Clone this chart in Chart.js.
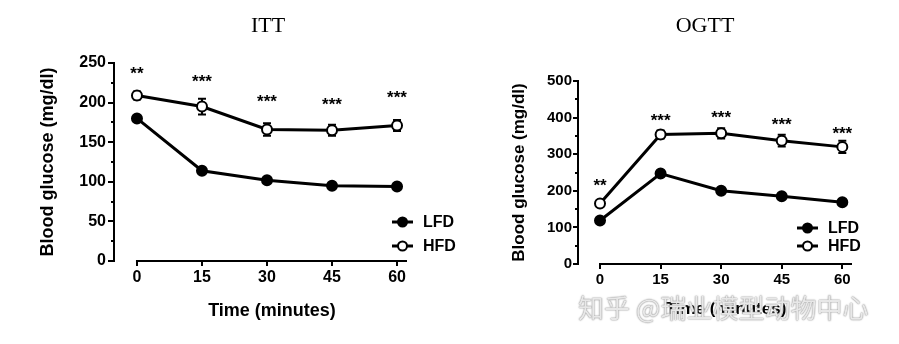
<!DOCTYPE html>
<html>
<head>
<meta charset="utf-8">
<script src="https://cdn.jsdelivr.net/npm/chart.js@4.4.0/dist/chart.umd.min.js"></script>
<style>
  html, body { margin: 0; padding: 0; background: #fff; }
  #wrap { position: relative; width: 899px; height: 344px; overflow: hidden; }
  canvas { position: absolute; top: 0; }
  #itt-canvas { left: 0; }
  #ogtt-canvas { left: 450px; }
  .panel-title {
    position: absolute; top: 14px; line-height: 22px;
    font-family: "Liberation Serif", "Times New Roman", serif; font-size: 22px;
    color: #000; transform: translateX(-50%); white-space: nowrap;
  }
  #watermark {
    position: absolute; left: 578px; top: 293px; line-height: 28px;
    font-family: "Noto Sans CJK SC", sans-serif; font-size: 26px; white-space: nowrap;
    color: rgba(255, 255, 255, 0.82);
    text-shadow: 0 0 1px #7a7a7a, 0 0 2px #a0a0a0;
  }
</style>
</head>
<body>
<div id="wrap">
  <canvas id="ogtt-canvas" width="449" height="344"></canvas>
  <canvas id="itt-canvas" width="480" height="344"></canvas>
  <div class="panel-title" style="left:268px">ITT</div>
  <div class="panel-title" style="left:705px">OGTT</div>
  <div id="watermark">知乎 @瑞业模型动物中心</div>
</div>
<script>
// time points (minutes)
const times = [0, 15, 30, 45, 60];
const seriesNames = ["LFD", "HFD"];

// ITT
const ittLfd = [180, 114, 102, 95, 94];
const ittHfd = [209, 195, 166, 165, 171];
const ittHfdErr = [5, 10, 8, 7, 7];
const ittStars = ["**", "***", "***", "***", "***"];
const ittStarY = [241, 231, 205, 202, 210];
const ittYTicks = [0, 50, 100, 150, 200, 250];
const ittYMinor = [25, 75, 125, 175, 225];

// OGTT
const ogttLfd = [119, 247, 200, 185, 169];
const ogttHfd = [165, 354, 357, 337, 320];
const ogttHfdErr = [5, 11, 14, 16, 17];
const ogttStars = ["**", "***", "***", "***", "***"];
const ogttStarY = [222, 400, 408, 389, 364];
const ogttYTicks = [0, 100, 200, 300, 400, 500];
const ogttYMinor = [50, 150, 250, 350, 450];

const xTitle = "Time (minutes)";
const yTitle = "Blood glucose (mg/dl)";

Chart.defaults.font.family = "'Liberation Sans', Arial, sans-serif";
Chart.defaults.color = "#000";

const decorPlugin = {
  id: "decor",
  beforeDatasetsDraw(chart, args, opts) {
    const { ctx, chartArea } = chart;
    const x = chart.scales.x;
    const y = chart.scales.y;
    ctx.save();
    ctx.strokeStyle = "#000";
    ctx.lineWidth = 2;

    // x axis line starts at the first time point
    ctx.beginPath();
    ctx.moveTo(x.getPixelForValue(times[0]) - 1, chartArea.bottom);
    ctx.lineTo(chartArea.right, chartArea.bottom);
    ctx.stroke();

    // minor y ticks
    ctx.beginPath();
    opts.minor.forEach((v) => {
      const py = Math.round(y.getPixelForValue(v));
      ctx.moveTo(chartArea.left, py);
      ctx.lineTo(chartArea.left - 3, py);
    });
    ctx.stroke();

    // HFD error bars
    ctx.beginPath();
    opts.errValues.forEach((v, i) => {
      const px = x.getPixelForValue(times[i]);
      const top = y.getPixelForValue(v + opts.err[i]);
      const bot = y.getPixelForValue(v - opts.err[i]);
      ctx.moveTo(px, top);
      ctx.lineTo(px, bot);
      ctx.moveTo(px - 4, top);
      ctx.lineTo(px + 4, top);
      ctx.moveTo(px - 4, bot);
      ctx.lineTo(px + 4, bot);
    });
    ctx.stroke();
    ctx.restore();
  },
  afterDatasetsDraw(chart, args, opts) {
    const { ctx, chartArea } = chart;
    const x = chart.scales.x;
    const y = chart.scales.y;
    ctx.save();
    ctx.fillStyle = "#000";

    // significance stars
    ctx.font = "bold 17px 'Liberation Sans', Arial, sans-serif";
    ctx.textAlign = "center";
    ctx.textBaseline = "middle";
    opts.stars.forEach((s, i) => {
      ctx.fillText(s, x.getPixelForValue(times[i]), y.getPixelForValue(opts.starY[i]) + 4);
    });

    // legend
    const lg = opts.legend;
    chart.data.datasets.forEach((ds, i) => {
      const ly = lg.y[i];
      ctx.strokeStyle = "#000";
      ctx.lineWidth = 3;
      ctx.beginPath();
      ctx.moveTo(lg.x1, ly);
      ctx.lineTo(lg.x2, ly);
      ctx.stroke();
      ctx.beginPath();
      ctx.arc((lg.x1 + lg.x2) / 2, ly, ds.pointRadius - 0.5, 0, Math.PI * 2);
      ctx.fillStyle = ds.pointBackgroundColor;
      ctx.fill();
      ctx.lineWidth = ds.pointBorderWidth;
      ctx.stroke();
      ctx.fillStyle = "#000";
      ctx.font = "bold 16px 'Liberation Sans', Arial, sans-serif";
      ctx.textAlign = "left";
      ctx.fillText(ds.label, lg.textX, ly + 1);
    });

    // axis titles
    ctx.textAlign = "center";
    ctx.textBaseline = "middle";
    ctx.font = `bold ${opts.titleSize}px 'Liberation Sans', Arial, sans-serif`;
    const xMid = (x.getPixelForValue(times[0]) + chartArea.right) / 2;
    ctx.fillText(xTitle, xMid, opts.xTitleY);
    ctx.translate(opts.yTitleX, (chartArea.top + chartArea.bottom) / 2);
    ctx.rotate(-Math.PI / 2);
    ctx.fillText(yTitle, 0, 0);
    ctx.restore();
  },
};

function makeChart(canvasId, cfg) {
  const line = (label, data, fill) => ({
    label,
    data,
    borderColor: "#000",
    borderWidth: 3,
    pointRadius: 5,
    pointHoverRadius: 5,
    pointBackgroundColor: fill,
    pointBorderColor: "#000",
    pointBorderWidth: 2,
    tension: 0,
    clip: false,
  });

  return new Chart(document.getElementById(canvasId), {
    type: "line",
    data: {
      labels: times,
      datasets: [
        line(seriesNames[0], cfg.lfd, "#000"),
        line(seriesNames[1], cfg.hfd, "#fff"),
      ],
    },
    options: {
      responsive: false,
      animation: false,
      events: [],
      layout: { padding: cfg.padding },
      plugins: {
        legend: { display: false },
        tooltip: { enabled: false },
        decor: cfg.decor,
      },
      scales: {
        x: {
          type: "linear",
          min: cfg.xMin,
          max: cfg.xMax,
          afterBuildTicks: (scale) => {
            scale.ticks = times.map((v) => ({ value: v }));
          },
          afterFit: (scale) => {
            scale.height = cfg.xHeight;
          },
          grid: { drawOnChartArea: false, tickLength: 5, color: "#000", lineWidth: 2 },
          border: { display: false },
          ticks: {
            autoSkip: false,
            maxRotation: 0,
            padding: 2,
            font: { size: cfg.tickSize, weight: "bold" },
            callback: (v) => String(v),
          },
        },
        y: {
          min: cfg.yTicks[0],
          max: cfg.yTicks[cfg.yTicks.length - 1],
          afterBuildTicks: (scale) => {
            scale.ticks = cfg.yTicks.map((v) => ({ value: v }));
          },
          afterFit: (scale) => {
            scale.width = cfg.yWidth;
          },
          grid: { drawOnChartArea: false, tickLength: cfg.yTickLen, color: "#000", lineWidth: 2 },
          border: { display: true, color: "#000", width: 2 },
          ticks: {
            padding: cfg.yTickPad,
            font: { size: cfg.tickSize, weight: "bold" },
            callback: (v) => String(v),
          },
        },
      },
    },
    plugins: [decorPlugin],
  });
}

makeChart("itt-canvas", {
  lfd: ittLfd,
  hfd: ittHfd,
  yTicks: ittYTicks,
  xMin: -5.3,
  xMax: 62.3,
  padding: { top: 63, right: 73, bottom: 0, left: 0 },
  yWidth: 114,
  xHeight: 83,
  yTickLen: 6,
  yTickPad: 2,
  tickSize: 16,
  decor: {
    minor: ittYMinor,
    errValues: ittHfd,
    err: ittHfdErr,
    stars: ittStars,
    starY: ittStarY,
    legend: { x1: 392, x2: 413, textX: 423, y: [222, 246] },
    titleSize: 18,
    xTitleY: 311,
    yTitleX: 48,
  },
});

makeChart("ogtt-canvas", {
  lfd: ogttLfd,
  hfd: ogttHfd,
  yTicks: ogttYTicks,
  xMin: -5.45,
  xMax: 62.4,
  padding: { top: 81, right: 47, bottom: 0, left: 0 },
  yWidth: 128,
  xHeight: 80,
  yTickLen: 5,
  yTickPad: 1,
  tickSize: 15,
  decor: {
    minor: ogttYMinor,
    errValues: ogttHfd,
    err: ogttHfdErr,
    stars: ogttStars,
    starY: ogttStarY,
    legend: { x1: 347, x2: 368, textX: 378, y: [228, 246] },
    titleSize: 17,
    xTitleY: 309,
    yTitleX: 69,
  },
});
</script>
</body>
</html>
